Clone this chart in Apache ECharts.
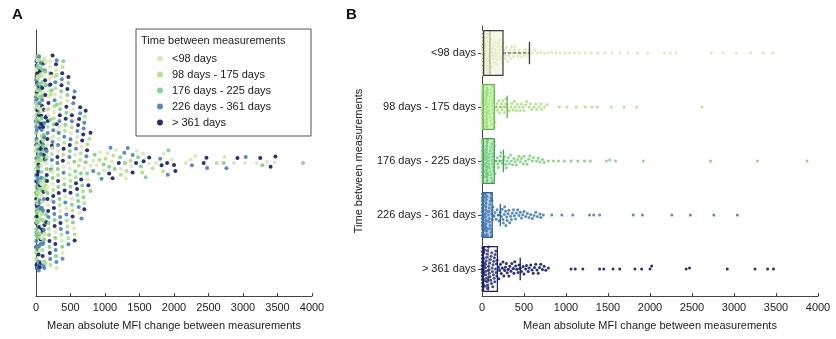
<!DOCTYPE html>
<html>
<head>
<meta charset="utf-8">
<script src="https://cdn.jsdelivr.net/npm/echarts@6.0.0/dist/echarts.min.js"></script>
<style>
html,body{margin:0;padding:0;background:#fff}
#chart{width:836px;height:339px}
</style>
</head>
<body>
<div id="chart"></div>
<script>
// Interval groups (time between the two measurements)
const groups = ['<98 days', '98 days - 175 days', '176 days - 225 days', '226 days - 361 days', '> 361 days'];

// Mean absolute MFI change between measurements, per interval group
const under98 = [1,2,3,4,5,6,7,8,9,10,11,12,13,14,15,16,17,18,19,20,21,22,23,24,25,
  27,30,33,36,39,42,45,48,51,54,57,60,63,66,69,72,75,78,81,84,87,90,93,96,99,
  106,112,118,124,130,136,142,148,154,160,166,172,178,184,190,196,202,208,214,220,226,232,238,244,250,
  262,275,280,290,300,305,320,330,340,350,360,375,385,395,410,425,440,455,470,490,505,520,535,550,565,600,
  630,660,700,745,790,830,880,930,985,1040,1100,1160,1230,1300,1380,1460,1550,1640,1740,1850,1970,
  2170,2240,2310,2730,2870,3030,3200,3350,3460];
const d98to175 = [1,1,2,3,3,4,5,5,6,7,7,8,8,9,10,10,11,11,12,12,13,13,14,14,15,
  16,18,19,21,22,24,25,27,29,30,32,34,36,38,40,42,44,46,48,50,52,54,56,58,60,
  63,67,70,74,77,81,85,88,92,96,99,103,107,110,114,117,121,124,128,131,134,137,140,143,146,
  155,170,180,185,200,210,215,232,240,250,260,268,280,285,300,320,
  345,355,370,385,395,410,420,445,455,470,490,500,520,530,560,575,590,620,640,650,680,700,710,745,775,
  920,1010,1120,1230,1310,1370,1540,1690,1840,2620];
const d176to225 = [1,2,2,3,4,4,5,6,6,7,8,8,9,9,10,10,11,12,12,13,13,14,14,15,15,
  17,18,20,21,23,25,26,28,30,32,34,35,37,39,41,43,45,47,49,51,53,55,57,59,61,
  64,67,71,74,78,82,85,89,93,96,100,104,107,111,114,118,121,125,128,132,135,138,141,144,146,
  155,168,182,190,196,210,220,225,240,255,270,
  280,290,300,315,325,340,350,365,380,395,410,425,440,455,470,490,500,520,535,555,570,600,610,650,670,690,720,740,790,
  850,910,980,1060,1140,1220,1290,1480,1520,1590,1920,2720,3280,3870];
const d226to361 = [1,1,2,2,3,3,4,4,5,5,6,6,7,7,8,8,9,9,10,10,11,11,12,12,12,
  13,15,16,18,19,21,22,24,25,27,28,30,31,33,34,36,37,39,40,42,43,45,46,48,50,
  53,56,59,62,65,68,71,74,77,80,83,86,89,92,95,98,101,104,107,110,113,116,118,120,122,
  130,142,155,168,180,192,205,218,230,
  240,250,255,265,270,280,285,295,300,310,320,330,340,350,360,375,385,400,410,425,440,455,470,485,500,
  520,540,560,580,600,620,640,660,690,700,730,
  830,950,1080,1280,1330,1400,1800,1910,2260,2480,2760,3040];
const over361 = [1,2,3,3,4,5,6,6,7,8,9,9,10,11,12,12,13,14,15,16,16,17,18,19,20,
  22,25,27,30,32,35,37,40,42,45,47,50,52,55,57,60,62,65,67,70,72,74,76,78,80,
  84,88,92,96,100,104,108,112,116,120,124,128,132,136,140,144,148,152,156,160,164,168,172,176,180,
  195,200,210,220,230,240,250,260,270,280,290,300,310,320,330,345,355,370,380,390,400,415,430,440,455,470,
  490,500,520,530,550,560,580,595,610,625,640,655,670,685,700,720,740,760,790,
  1060,1110,1200,1400,1450,1560,1640,1820,1900,2000,2020,2430,2470,2920,3250,3400,3470];

const groupValues = [under98, d98to175, d176to225, d226to361, over361];

// Box summaries per group: [lower whisker, Q1, median, Q3, upper whisker]
const boxStats = [
  [2, 20, 95, 250, 565],
  [1, 14, 58, 146, 300],
  [1, 14, 60, 146, 255],
  [1, 12, 48, 122, 218],
  [1, 18, 78, 183, 455]
];

const xTicks = [0, 500, 1000, 1500, 2000, 2500, 3000, 3500, 4000];

// Colours
const dotColors = ['#dfe7b6', '#b2e38a', '#84d486', '#4f86bd', '#202476'];
const boxFill = ['rgba(236,239,205,0.55)', 'rgba(170,236,140,0.45)', 'rgba(130,215,140,0.45)', 'rgba(95,145,200,0.40)', 'rgba(255,255,255,0.15)'];
const boxStroke = ['#3a3a3a', '#5cb84a', '#3f9c52', '#2f5e92', '#1c1f5e'];

const FONT = 'Liberation Sans, Arial, sans-serif';
const TXT = '#222';
const AX = '#444';

// Panel A: all groups pooled on one swarm, ordered by value
const pooled = [];
groupValues.forEach((vals, gi) => {
  vals.forEach(v => pooled.push({ value: [v, 'all'], itemStyle: { color: dotColors[gi] } }));
});
pooled.sort((a, b) => a.value[0] - b.value[0]);

function valueAxis(gridIndex) {
  return {
    type: 'value', gridIndex, min: xTicks[0], max: xTicks[xTicks.length - 1], interval: 500,
    name: 'Mean absolute MFI change between measurements',
    nameLocation: 'middle', nameGap: 24,
    nameTextStyle: { fontFamily: FONT, fontSize: 11, color: TXT },
    axisLine: { show: true, lineStyle: { color: AX, width: 1 } },
    axisTick: { show: true, inside: true, length: 3, lineStyle: { color: AX } },
    axisLabel: { fontFamily: FONT, fontSize: 11, color: TXT, margin: 6, formatter: v => String(v) },
    splitLine: { show: false }
  };
}

const chart = echarts.init(document.getElementById('chart'), null, { renderer: 'canvas' });

const series = [
  {
    type: 'scatter', name: 'pooled', xAxisIndex: 0, yAxisIndex: 0,
    symbolSize: 4, data: pooled, z: 2,
    itemStyle: { opacity: 0.95 }
  }
];

groupValues.forEach((vals, gi) => {
  series.push({
    type: 'scatter', name: groups[gi], xAxisIndex: 1, yAxisIndex: 1,
    symbolSize: 3, z: 2,
    itemStyle: { color: dotColors[gi], opacity: 0.95 },
    data: vals.map(v => [v, groups[gi]])
  });
});

series.push({
  type: 'custom', name: 'boxes', xAxisIndex: 1, yAxisIndex: 1, z: 3,
  encode: { y: 0, x: [1, 2, 3, 4, 5] },
  data: boxStats.map((s, i) => [groups[i]].concat(s)),
  renderItem(params, api) {
    const cat = api.value(0);
    const i = params.dataIndex;
    const q1 = api.coord([api.value(2), cat]);
    const med = api.coord([api.value(3), cat]);
    const q3 = api.coord([api.value(4), cat]);
    const wh = api.coord([api.value(5), cat]);
    const band = api.size([0, 1])[1];
    const h = band * 0.83;
    const cy = q1[1];
    return {
      type: 'group',
      children: [
        { type: 'rect', shape: { x: q1[0], y: cy - h / 2, width: q3[0] - q1[0], height: h },
          style: { fill: boxFill[i], stroke: boxStroke[i], lineWidth: 1.2 } },
        { type: 'line', shape: { x1: med[0], y1: cy - h / 2, x2: med[0], y2: cy + h / 2 },
          style: { stroke: boxStroke[i], lineWidth: 1, opacity: 0.45 } },
        { type: 'line', shape: { x1: q3[0], y1: cy, x2: wh[0], y2: cy },
          style: { stroke: boxStroke[i], lineWidth: 1, lineDash: [3, 2] } },
        { type: 'line', shape: { x1: wh[0], y1: cy - h / 4, x2: wh[0], y2: cy + h / 4 },
          style: { stroke: boxStroke[i], lineWidth: 1.3 } }
      ]
    };
  }
});

chart.setOption({
  animation: false,
  backgroundColor: '#fff',
  textStyle: { fontFamily: FONT },
  grid: [
    { left: 36, right: 524, top: 30, bottom: 43 },
    { left: 482, right: 18, top: 26, bottom: 43 }
  ],
  xAxis: [valueAxis(0), valueAxis(1)],
  yAxis: [
    {
      type: 'category', gridIndex: 0, data: ['all'],
      axisLine: { show: true, lineStyle: { color: AX, width: 1 } },
      axisTick: { show: false }, axisLabel: { show: false },
      jitter: 215, jitterOverlap: false, jitterMargin: 2
    },
    {
      type: 'category', gridIndex: 1, data: groups, inverse: true,
      name: 'Time between measurements', nameLocation: 'middle', nameGap: 118, nameRotate: 90,
      nameTextStyle: { fontFamily: FONT, fontSize: 11, color: TXT },
      axisLine: { show: true, lineStyle: { color: AX, width: 1 } },
      axisTick: { show: true, alignWithLabel: true, length: 4, lineStyle: { color: AX } },
      axisLabel: { fontFamily: FONT, fontSize: 11, color: TXT, margin: 6 },
      jitter: 44, jitterOverlap: false, jitterMargin: 0.5
    }
  ],
  legend: {
    data: groups, orient: 'vertical', left: 157, top: 53, z: 20,
    itemWidth: 6, itemHeight: 6, itemGap: 5, padding: 0, icon: 'circle',
    textStyle: { fontFamily: FONT, fontSize: 11, color: TXT, padding: [0, 0, 0, 4] },
    selectedMode: false
  },
  graphic: [
    { type: 'text', left: 12, top: 7, style: { text: 'A', font: 'bold 15px ' + FONT, fill: '#111' } },
    { type: 'text', left: 346, top: 7, style: { text: 'B', font: 'bold 15px ' + FONT, fill: '#111' } },
    { type: 'rect', shape: { x: 136, y: 29, width: 175, height: 107 },
      style: { fill: '#fff', stroke: '#555', lineWidth: 1 }, z: 3 },
    { type: 'text', x: 141, y: 35, z: 6,
      style: { text: 'Time between measurements', font: '11px ' + FONT, fill: TXT } }
  ],
  series
});
</script>
</body>
</html>
